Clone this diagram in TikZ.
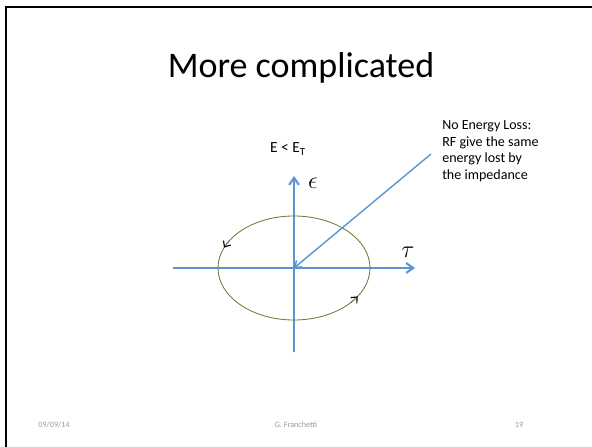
\documentclass[tikz,border=0pt]{standalone}
\usepackage{fontspec}
\setmainfont{Carlito}
\usepackage{amsmath}
\usepackage{xcolor}
\usetikzlibrary{
    arrows.meta
}
\definecolor{axC}{RGB}{91,150,210}
\definecolor{orbC}{RGB}{110,122,62}
\definecolor{footC}{gray}{0.6}
\tikzset{
  axis/.style    = {-{Straight Barb[length=5pt,width=7pt]}, axC, line width=1.5pt},
  pointer/.style = {-{Straight Barb[length=4pt,width=6pt]}, axC, line width=1pt},
  orbit/.style   = {orbC, line width=0.6pt},
  spin/.style    = {orbC, line width=0.6pt,
                    -{Straight Barb[black, length=3.5pt, width=6pt, line width=0.8pt]}},
  foot/.style    = {font=\fontsize{5.8pt}{7pt}\selectfont, text=footC}
}

\begin{document}
\begin{tikzpicture}[x=0.025cm, y=-0.025cm]
  \useasboundingbox (0,0) rectangle (592,447);

  %% ── Slide frame ───────────────────────────────────────────────
  \draw[black, line width=1.6pt] (6.2,447) -- (6.2,7.3) -- (592,7.3);

  %% ── Title ─────────────────────────────────────────────────────
  \node (title) at (301,68) {\fontsize{25.6pt}{30pt}\selectfont More complicated};

  %% ── Axes ──────────────────────────────────────────────────────
  \coordinate (o)  at (294,268);
  \coordinate (xl) at (173,268);
  \coordinate (xr) at (415,268);
  \coordinate (yb) at (294,352);
  \coordinate (yt) at (294,176);
  \draw[axis] (xl) -- (xr);
  \draw[axis] (yb) -- (yt);
  \node (tau) at (408,252) {\fontsize{17pt}{20pt}\selectfont $\tau$};
  \node (eps) at (313,183) {\fontsize{17pt}{20pt}\selectfont $\epsilon$};

  %% ── Orbit ─────────────────────────────────────────────────────
  \draw[orbit] (o) ellipse [x radius=76, y radius=52];
  \draw[spin] (o) ++(212:76 and 52) coordinate (s1) arc [start angle=212, end angle=203, x radius=76, y radius=52];
  \draw[spin] (o) ++(42:76 and 52) coordinate (s2) arc [start angle=42, end angle=33, x radius=76, y radius=52];

  %% ── Energy label ──────────────────────────────────────────────
  \node (elab) at (288,149) {\fontsize{11pt}{13pt}\selectfont E < E\textsubscript{T}};

  %% ── Note and pointer ──────────────────────────────────────────
  \node[anchor=north west, align=left, inner sep=0pt] (note) at (442,120)
    {\fontsize{9.9pt}{11.4pt}\selectfont No Energy Loss:\\RF give the same\\energy lost by\\the impedance};
  \coordinate (ptr) at (431,154);
  \draw[pointer] (ptr) -- (o);

  %% ── Footer ────────────────────────────────────────────────────
  \node[foot] (date)   at (54,425)  {09/09/14};
  \node[foot] (author) at (296,425) {G. Franchetti};
  \node[foot] (page)   at (519,425) {19};

\end{tikzpicture}
\end{document}
